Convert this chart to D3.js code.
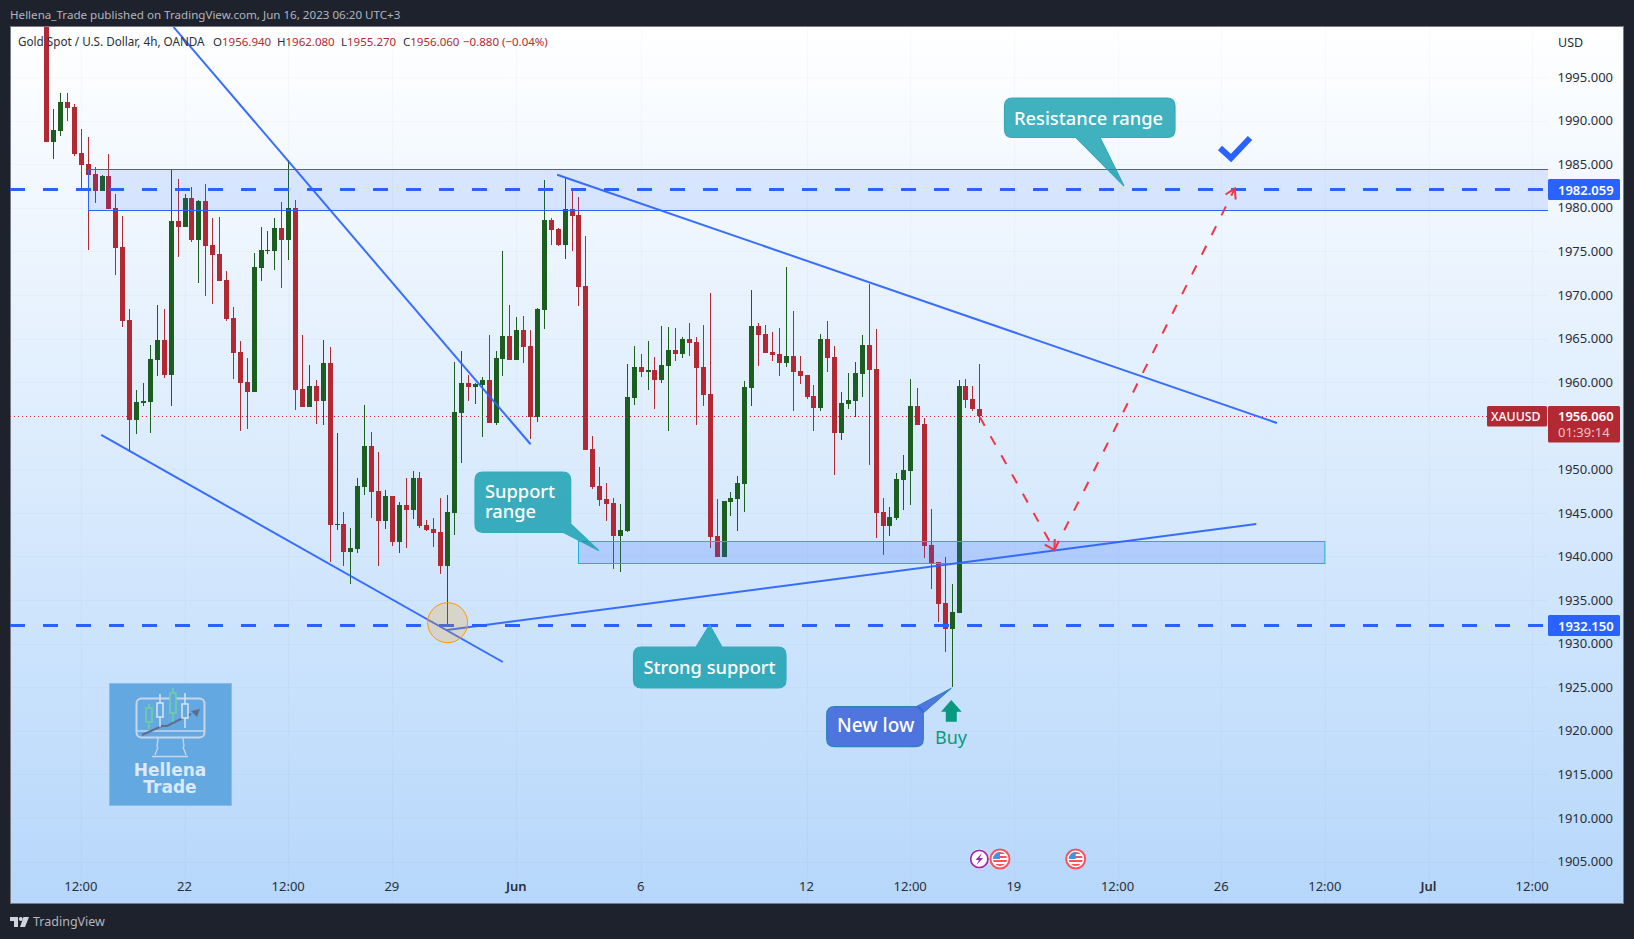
<!DOCTYPE html>
<html><head><meta charset="utf-8">
<script src="https://cdn.jsdelivr.net/npm/d3@7/dist/d3.min.js"></script>
<style>html,body{margin:0;padding:0;background:#1e222d;overflow:hidden}svg{display:block}text{font-family:"Noto Sans",sans-serif}</style>
</head><body><svg id="c" width="1634" height="939"></svg>
<script>
// ---- data ----
const opens=[2002.00,1987.58,1988.84,1992.13,1991.56,1986.28,1985.05,1983.87,1981.96,1983.64,
1979.97,1975.50,1967.13,1955.66,1957.61,1957.72,1962.54,1964.83,1960.82,1978.48,
1977.79,1981.12,1976.30,1980.78,1975.72,1974.69,1971.71,1967.36,1963.45,1960.02,
1958.87,1973.09,1975.03,1975.03,1977.68,1976.30,1979.97,1959.21,1957.15,1959.56,
1957.84,1962.19,1943.60,1943.72,1940.51,1940.85,1947.96,1952.67,1947.50,1944.06,
1946.93,1941.65,1945.90,1945.32,1949.00,1943.60,1943.14,1942.80,1938.90,1944.98,
1956.46,1959.90,1959.44,1959.67,1960.24,1955.31,1962.65,1965.29,1962.54,1965.98,
1964.14,1956.00,1968.27,1978.60,1977.56,1975.72,1979.86,1979.17,1971.03,1952.33,
1948.08,1946.59,1946.13,1942.34,1942.91,1958.18,1961.73,1961.16,1961.39,1960.24,
1961.85,1963.68,1963.22,1964.95,1964.60,1961.73,1958.64,1942.34,1939.93,1946.24,
1946.58,1948.30,1959.33,1966.44,1965.53,1963.45,1963.22,1962.19,1963.00,1961.27,
1960.82,1958.41,1957.03,1964.95,1962.88,1954.17,1957.49,1957.84,1960.93,1964.26,
1961.50,1945.09,1943.49,1944.41,1948.77,1949.80,1957.26,1955.20,1941.31,1939.36,
1934.66,1931.68,1933.51,1959.56,1958.07,1956.94];
const highs=[2004.00,1991.33,1993.16,1993.16,1991.90,1989.03,1988.12,1984.68,1983.76,1986.17,
1981.58,1979.05,1968.39,1959.10,1959.90,1964.26,1968.85,1968.39,1984.45,1983.30,
1981.58,1982.38,1980.89,1982.72,1978.83,1978.94,1972.75,1968.62,1964.72,1962.77,
1974.81,1977.79,1977.33,1978.83,1980.66,1985.48,1980.89,1965.41,1961.95,1960.24,
1964.83,1964.03,1954.17,1945.09,1943.26,1949.00,1957.38,1954.28,1951.98,1947.62,
1946.93,1946.24,1949.00,1949.80,1949.68,1944.18,1944.41,1946.70,1947.04,1962.31,
1963.57,1960.82,1959.90,1960.59,1965.41,1963.57,1975.00,1968.85,1967.47,1967.59,
1965.98,1968.50,1983.18,1978.83,1977.68,1983.41,1982.04,1981.24,1976.76,1953.82,
1950.25,1948.42,1946.70,1946.01,1962.08,1964.14,1963.22,1964.72,1962.88,1966.44,
1966.32,1966.21,1965.17,1966.78,1965.17,1966.55,1970.22,1946.58,1946.36,1947.39,
1949.23,1960.13,1970.57,1966.78,1966.55,1965.75,1966.21,1973.21,1968.16,1963.00,
1960.82,1959.67,1965.53,1967.01,1964.14,1958.87,1961.05,1962.31,1965.41,1971.26,
1966.09,1946.70,1945.67,1949.57,1951.64,1960.36,1959.33,1955.89,1945.44,1939.36,
1939.93,1936.84,1960.24,1960.36,1959.56,1962.08];
const lows=[1987.58,1985.63,1988.27,1989.99,1985.97,1982.27,1975.19,1980.55,1981.92,1979.86,
1972.29,1966.36,1952.02,1954.05,1957.26,1954.17,1960.70,1960.47,1957.26,1974.34,
1977.79,1976.07,1971.37,1969.88,1968.96,1971.60,1967.01,1960.36,1954.39,1954.62,
1958.87,1971.60,1974.69,1972.86,1970.80,1974.00,1956.80,1957.15,1957.15,1955.20,
1955.08,1939.36,1943.03,1938.90,1936.84,1940.39,1947.04,1944.41,1938.90,1943.14,
1941.19,1940.39,1940.97,1944.29,1943.26,1942.91,1941.08,1937.98,1932.02,1942.46,
1950.73,1957.84,1957.49,1953.70,1955.31,1955.08,1960.70,1962.54,1962.54,1962.19,
1953.47,1955.43,1966.09,1975.72,1975.61,1974.12,1975.03,1968.73,1952.21,1947.73,
1945.78,1944.06,1938.55,1938.21,1942.80,1957.38,1960.59,1959.10,1956.92,1959.90,
1954.39,1962.42,1962.77,1963.00,1955.08,1957.26,1940.97,1939.93,1939.93,1944.64,
1942.91,1945.09,1957.26,1961.85,1963.34,1962.42,1960.70,1961.73,1956.69,1959.79,
1958.07,1954.39,1956.69,1961.16,1949.34,1953.36,1956.92,1956.00,1958.30,1950.50,
1942.11,1940.16,1942.34,1944.18,1945.32,1945.90,1955.08,1939.82,1936.26,1932.48,
1929.04,1925.03,1933.51,1957.03,1956.69,1955.27];
const closes=[1987.58,1988.92,1992.13,1991.48,1986.20,1984.94,1983.79,1981.96,1983.64,1979.86,
1975.38,1967.05,1955.66,1957.72,1957.84,1962.65,1964.83,1960.82,1978.48,1977.79,
1981.12,1976.30,1980.78,1975.61,1974.58,1971.60,1967.24,1963.34,1959.90,1958.87,
1973.21,1975.15,1975.15,1977.68,1976.30,1979.97,1959.10,1957.15,1959.56,1957.84,
1962.19,1943.60,1943.72,1940.51,1940.97,1948.08,1952.67,1947.39,1944.06,1946.93,
1941.65,1945.90,1945.32,1949.00,1943.49,1943.03,1942.68,1938.90,1945.09,1956.57,
1959.90,1959.44,1959.79,1960.24,1955.31,1962.77,1965.29,1962.54,1965.98,1964.03,
1956.00,1968.39,1978.60,1977.45,1975.72,1979.86,1979.05,1970.91,1952.21,1947.96,
1946.47,1946.01,1942.34,1943.03,1958.30,1961.73,1961.16,1961.39,1960.24,1961.96,
1963.68,1963.22,1964.95,1964.49,1961.62,1958.53,1942.22,1939.93,1946.36,1946.70,
1948.42,1959.44,1966.44,1965.41,1963.34,1963.11,1962.19,1963.00,1961.16,1960.70,
1958.30,1957.03,1964.95,1962.77,1954.17,1957.61,1957.95,1961.05,1964.26,1961.39,
1944.98,1943.49,1944.52,1948.88,1949.92,1957.26,1955.08,1941.19,1939.24,1934.54,
1931.68,1933.62,1959.56,1957.95,1956.92,1956.06];

const priceTicks=[1995,1990,1985,1980,1975,1970,1965,1960,1950,1945,1940,1935,1930,1925,1920,1915,1910,1905];
const timeBars=[5,20,35,50,68,86,110,125,140,155,170,185,200,215];
const timeLabels=["12:00","22","12:00","29","Jun","6","12","12:00","19","12:00","26","12:00","Jul","12:00"];

const lastPrice=1956.06, resistanceLevel=1982.059, supportLevel=1932.15;
const resistanceBox=[6,1984.45,220,1979.75];
const supportBox=[77,1941.73,185,1939.28];
const trendLines=[
 [[18.33,2000.74],[70,1952.87]],
 [[7.87,1953.94],[65.98,1927.89]],
 [[73.85,1983.79],[178,1955.31]],
 [[57.9,1931.56],[175,1943.72]]];
const forecastLegs=[
 [[135,1956.0],[145.8,1940.74]],
 [[145.8,1940.74],[171.9,1982.2]]];
const circleMark=[58,1932.4];

// ---- geometry ----
const W=1634,H=939,L=10,T=27,R=1623,B=903,PANE=1548;
const svg=d3.select("#c");
const x=d3.scaleLinear().domain([0,215]).range([46.8,46.8+215*6.911]);
const y=d3.scaleLinear().domain([1995,1905]).range([77,861.53]);
const defs=svg.append("defs");
const gr=defs.append("linearGradient").attr("id","bg").attr("x1",0).attr("x2",0).attr("y1",0).attr("y2",1);
gr.append("stop").attr("offset",0).attr("stop-color","#ffffff");
gr.append("stop").attr("offset",1).attr("stop-color","#b6d7fb");
defs.append("clipPath").attr("id","pane").append("rect").attr("x",L).attr("y",T).attr("width",PANE-L).attr("height",B-T);

svg.append("rect").attr("x",0).attr("y",0).attr("width",W).attr("height",H).attr("fill","#1e222d");
svg.append("rect").attr("x",L+.5).attr("y",T-.5).attr("width",R-L).attr("height",B-T+1).attr("fill","url(#bg)").attr("stroke","#787b86").attr("stroke-width",1);

// faint grid
const grid=svg.append("g").attr("clip-path","url(#pane)").attr("stroke","rgba(42,46,57,0.025)").attr("shape-rendering","crispEdges");
grid.selectAll("line.v").data(timeBars).join("line").attr("x1",d=>Math.floor(x(d))+.5).attr("x2",d=>Math.floor(x(d))+.5).attr("y1",T).attr("y2",B);
grid.selectAll("line.h").data(priceTicks).join("line").attr("y1",d=>Math.round(y(d))+.5).attr("y2",d=>Math.round(y(d))+.5).attr("x1",L).attr("x2",PANE);

const pane=svg.append("g").attr("clip-path","url(#pane)");
const UP="#1b5e20",DN="#b22833";

// logo (under candles)
const logo=pane.append("g");
logo.append("rect").attr("x",109.5).attr("y",683.5).attr("width",122).attr("height",122).attr("fill","#64a8e2").attr("stroke","#85bcec");
logo.append("rect").attr("x",136.5).attr("y",698.5).attr("width",68).attr("height",39).attr("rx",5).attr("fill","none").attr("stroke","#c6d6ea").attr("stroke-width",2);
logo.append("line").attr("x1",137).attr("x2",204).attr("y1",731).attr("y2",731).attr("stroke","#c6d6ea").attr("stroke-width",1.6);
logo.append("path").attr("d","M158 738l-1 9M183 738l1 9M152 756.5h36M158 747l-3 8M183 747l3 8").attr("fill","none").attr("stroke","#c6d6ea").attr("stroke-width",1.4);
logo.append("path").attr("d","M142 735l20-9-3 0 8 0 24-12").attr("fill","none").attr("stroke","#5d6f8c").attr("stroke-width",2);
logo.append("path").attr("d","M191 711l9-2-3 8z").attr("fill","#5d6f8c");
[[149,704,729,708,722,"#6fcf9f"],[160,694,727,703,717,"#d4e0f0"],[173,688,722,693,713,"#6fcf9f"],[185,693,728,704,718,"#d4e0f0"]].forEach(s=>{
 logo.append("line").attr("x1",s[0]).attr("x2",s[0]).attr("y1",s[1]).attr("y2",s[2]).attr("stroke",s[5]).attr("stroke-width",1.6);
 logo.append("rect").attr("x",s[0]-3).attr("y",s[3]).attr("width",6).attr("height",s[4]-s[3]).attr("fill","#64a8e2").attr("stroke",s[5]).attr("stroke-width",1.6);
});
logo.selectAll("text.l").data([["Hellena",776],["Trade",793]]).join("text")
 .attr("x",170).attr("y",d=>d[1]).attr("text-anchor","middle").attr("font-size",17).attr("font-weight",700).attr("fill","#dbe9f8")
 .style("font-family",'"DejaVu Sans",sans-serif').text(d=>d[0]);

// last price dotted line
pane.append("line").attr("x1",L).attr("x2",1487).attr("y1",Math.round(y(lastPrice))+.5).attr("y2",Math.round(y(lastPrice))+.5)
 .attr("stroke",DN).attr("stroke-width",1).attr("stroke-dasharray","1 3");

// candles
const bars=d3.range(opens.length);
const col=i=>closes[i]>=opens[i]?UP:DN;
const cg=pane.append("g").attr("shape-rendering","crispEdges");
cg.selectAll("rect.w").data(bars).join("rect").attr("class","w")
 .attr("x",i=>Math.floor(x(i))).attr("width",1)
 .attr("y",i=>Math.round(y(highs[i]))).attr("height",i=>Math.max(1,Math.round(y(lows[i]))-Math.round(y(highs[i]))))
 .attr("fill",col);
cg.selectAll("rect.b").data(bars).join("rect").attr("class","b")
 .attr("x",i=>Math.floor(x(i))-2).attr("width",5)
 .attr("y",i=>Math.round(y(Math.max(opens[i],closes[i]))))
 .attr("height",i=>Math.max(1,Math.round(y(Math.min(opens[i],closes[i])))-Math.round(y(Math.max(opens[i],closes[i])))))
 .attr("fill",col);

// boxes
const box=(b,fill,stroke)=>pane.append("rect").attr("x",Math.floor(x(b[0]))+.5).attr("y",Math.round(y(b[1]))+.5)
 .attr("width",x(b[2])-x(b[0])).attr("height",Math.round(y(b[3]))-Math.round(y(b[1])))
 .attr("fill",fill).attr("stroke",stroke).attr("stroke-width",1);
box(resistanceBox,"rgba(41,98,255,0.13)","#2962ff");
box(supportBox,"rgba(41,98,255,0.2)","#16b5cf");

// dashed levels
[resistanceLevel,supportLevel].forEach(v=>{const ly=Math.floor(y(v)+.15)+.5;pane.append("line").attr("x1",L).attr("x2",PANE).attr("y1",ly).attr("y2",ly)
 .attr("stroke","#2962ff").attr("stroke-width",3).attr("stroke-dasharray","15 18");});

// trend lines
pane.selectAll("path.tl").data(trendLines).join("path").attr("class","tl")
 .attr("d",d3.line().x(d=>x(d[0])).y(d=>y(d[1]))).attr("fill","none").attr("stroke","#2962ff").attr("stroke-width",2).attr("opacity",.92);

// circle
pane.append("circle").attr("cx",x(circleMark[0])).attr("cy",y(circleMark[1])).attr("r",20)
 .attr("fill","rgba(255,152,0,0.2)").attr("stroke","#ff9800").attr("stroke-width",1);

// forecast arrows
forecastLegs.forEach(l=>{
 const a=[x(l[0][0]),y(l[0][1])],b=[x(l[1][0]),y(l[1][1])];
 const ang=Math.atan2(b[1]-a[1],b[0]-a[0]);
 pane.append("line").attr("x1",a[0]).attr("y1",a[1]).attr("x2",b[0]).attr("y2",b[1])
  .attr("stroke","#f23645").attr("stroke-width",2).attr("stroke-dasharray","10 12");
 const h=11;
 pane.append("path").attr("d",`M${b[0]+h*Math.cos(ang+2.6)} ${b[1]+h*Math.sin(ang+2.6)}L${b[0]} ${b[1]}L${b[0]+h*Math.cos(ang-2.6)} ${b[1]+h*Math.sin(ang-2.6)}`)
  .attr("fill","none").attr("stroke","#f23645").attr("stroke-width",2);
});

// check mark
pane.append("path").attr("d","M1220 148L1231 158L1250 138").attr("fill","none").attr("stroke","#2962ff").attr("stroke-width",6);

// callouts
function callout(r,tail,lines,fill,stroke,op,tx,lh,ty,fs){
 const [a,b,c,d]=r, q=8; // left,top,right,bottom
 const p=`M${a+q} ${b}`+(tail.side==="top"?`L${tail.p1} ${b}L${tail.tip[0]} ${tail.tip[1]}L${tail.p2} ${b}`:"")+
 `L${c-q} ${b}Q${c} ${b} ${c} ${b+q}`+
 (tail.side==="corner"?`L${c} ${tail.p2}L${tail.tip[0]} ${tail.tip[1]}L${tail.p1} ${d}`:`L${c} ${d-q}Q${c} ${d} ${c-q} ${d}`)+
 (tail.side==="bottom"?`L${tail.p1} ${d}L${tail.tip[0]} ${tail.tip[1]}L${tail.p2} ${d}`:"")+
 `L${a+q} ${d}Q${a} ${d} ${a} ${d-q}L${a} ${b+q}Q${a} ${b} ${a+q} ${b}Z`;
 pane.append("path").attr("d",p).attr("fill",fill).attr("fill-opacity",op).attr("stroke",stroke).attr("stroke-width",1.2);
 lines.forEach((t,i)=>pane.append("text").attr("x",tx).attr("y",ty+i*lh).attr("font-size",fs).attr("font-weight",500).attr("fill","#fff").text(t));
}
const TEAL="#0097a7",TS="#34a9b9";
callout([1004.5,98,1175,137.5],{side:"bottom",p1:1100,p2:1076,tip:[1124,186]},["Resistance range"],TEAL,TS,.74,1014,0,124.5,18.3);
callout([475,472,570.7,532.3],{side:"corner",p1:563,p2:524,tip:[599,550.7]},["Support","range"],TEAL,TS,.74,485,20,498,18.3);
callout([633.5,647,786,688],{side:"top",p1:696,p2:722,tip:[709.6,625]},["Strong support"],TEAL,TS,.74,643.5,0,674,18.3);
callout([826.7,706.7,923.3,746.7],{side:"top",p1:916,p2:916,tip:[916,706.7]},["New low"],"#3a62d8","#2c80c0",.85,837,0,732,19);
pane.append("path").attr("d","M916 706.7L951.3 688.3L923.3 713Z").attr("fill","#3a62d8").attr("fill-opacity",.85).attr("stroke","#2c80c0").attr("stroke-width",1);

// buy arrow
pane.append("path").attr("d","M951.3 700L961.7 711.7H956.8V721.7H945.8V711.7H941Z").attr("fill","#089981");
pane.append("text").attr("x",951).attr("y",744).attr("text-anchor","middle").attr("font-size",18).attr("fill","#089981").text("Buy");

// event icons
function flag(cx,cy){
 const g=pane.append("g");
 g.append("circle").attr("cx",cx).attr("cy",cy).attr("r",9.5).attr("fill","#fff").attr("stroke","#f7525f").attr("stroke-width",2);
 const id="f"+Math.round(cx);
 defs.append("clipPath").attr("id",id).append("circle").attr("cx",cx).attr("cy",cy).attr("r",7);
 const f=g.append("g").attr("clip-path",`url(#${id})`);
 [-6,-2,2,6].forEach(o=>f.append("rect").attr("x",cx-8).attr("y",cy+o-1).attr("width",16).attr("height",2).attr("fill","#f7525f"));
 f.append("rect").attr("x",cx-8).attr("y",cy-8).attr("width",8).attr("height",8).attr("fill","#4a90e2");
}
pane.append("circle").attr("cx",979.3).attr("cy",859).attr("r",10).attr("fill","#fff");
pane.append("circle").attr("cx",979.3).attr("cy",859).attr("r",8.7).attr("fill","#fff").attr("stroke","#9c27b0").attr("stroke-width",1.8);
pane.append("path").attr("d","M982 853L975.5 860H979L976.5 865L983 858H979.5Z").attr("fill","#9c27b0");
flag(1000,859);flag(1075.7,859);

// axes
const ax=svg.append("g").attr("transform","translate(1557.5,0)")
 .call(d3.axisRight(y).tickValues(priceTicks).tickSize(0).tickPadding(0).tickFormat(d3.format(".3f")));
ax.select(".domain").remove();
ax.selectAll("text").attr("font-size",13).attr("font-family",'"Noto Sans",sans-serif').attr("fill","#2a2e39");
const at=svg.append("g").attr("transform","translate(-1,882)")
 .call(d3.axisBottom(x).tickValues(timeBars).tickSize(0).tickPadding(0).tickFormat((d,i)=>timeLabels[i]));
at.select(".domain").remove();
at.selectAll("text").attr("font-size",13).attr("font-family",'"Noto Sans",sans-serif').attr("fill","#2a2e39")
 .attr("font-weight",(d,i)=>/[A-Z]/.test(timeLabels[i])?600:400);

// price tags
function tag(a,b,c,d,fill,lines){
 svg.append("rect").attr("x",a).attr("y",b).attr("width",c-a).attr("height",d-b).attr("rx",1.5).attr("fill",fill);
 lines.forEach(l=>svg.append("text").attr("x",l.x).attr("y",l.y).attr("font-size",l.s||13).attr("font-weight",l.w||600).attr("fill",l.c||"#fff").text(l.t));
}
const yr=Math.round(y(resistanceLevel)),ys=Math.round(y(supportLevel)),yl=Math.round(y(lastPrice));
tag(1548,yr-11,1620,yr+10,"#2962ff",[{x:1558,y:yr+4.5,t:d3.format(".3f")(resistanceLevel)}]);
tag(1548,ys-10,1620,ys+11,"#2962ff",[{x:1558,y:ys+5.5,t:d3.format(".3f")(supportLevel)}]);
tag(1487,yl-10,1547,yl+10.5,DN,[{x:1491,y:yl+4.5,t:"XAUUSD",w:500,s:12.3}]);
tag(1548,yl-10,1620,yl+26.5,DN,[{x:1558,y:yl+4.5,t:d3.format(".3f")(lastPrice)},{x:1558,y:yl+21,t:"01:39:14",c:"#edc1c5",w:400}]);

// header + legend
svg.append("text").attr("x",10).attr("y",19).attr("font-size",11.6).attr("fill","#b2b5be").text("Hellena_Trade published on TradingView.com, Jun 16, 2023 06:20 UTC+3");
svg.append("text").attr("x",18).attr("y",46).attr("font-size",11.7).attr("fill","#2a2e39").text("Gold Spot / U.S. Dollar, 4h, OANDA");
[["O",213,"1956.940"],["H",277,"1962.080"],["L",341,"1955.270"],["C",403,"1956.060"]].forEach(d=>{
 const t=svg.append("text").attr("x",d[1]).attr("y",46).attr("font-size",11.5);
 t.append("tspan").attr("fill","#2a2e39").text(d[0]);
 t.append("tspan").attr("fill",DN).text(d[2]);
});
svg.append("text").attr("x",463).attr("y",46).attr("font-size",11.5).attr("fill",DN).text("−0.880 (−0.04%)");
svg.append("text").attr("x",1558).attr("y",47).attr("font-size",12.5).attr("fill","#2a2e39").text("USD");

// footer
svg.append("path").attr("d","M10 917H18V927H14V921H10ZM23.5 917H29L25 927H20L23.5 917Z").attr("fill","#d1d4dc");
svg.append("circle").attr("cx",20.8).attr("cy",919).attr("r",2).attr("fill","#d1d4dc");
svg.append("text").attr("x",33).attr("y",926).attr("font-size",12.5).attr("fill","#b2b5be").text("TradingView");
</script></body></html>
